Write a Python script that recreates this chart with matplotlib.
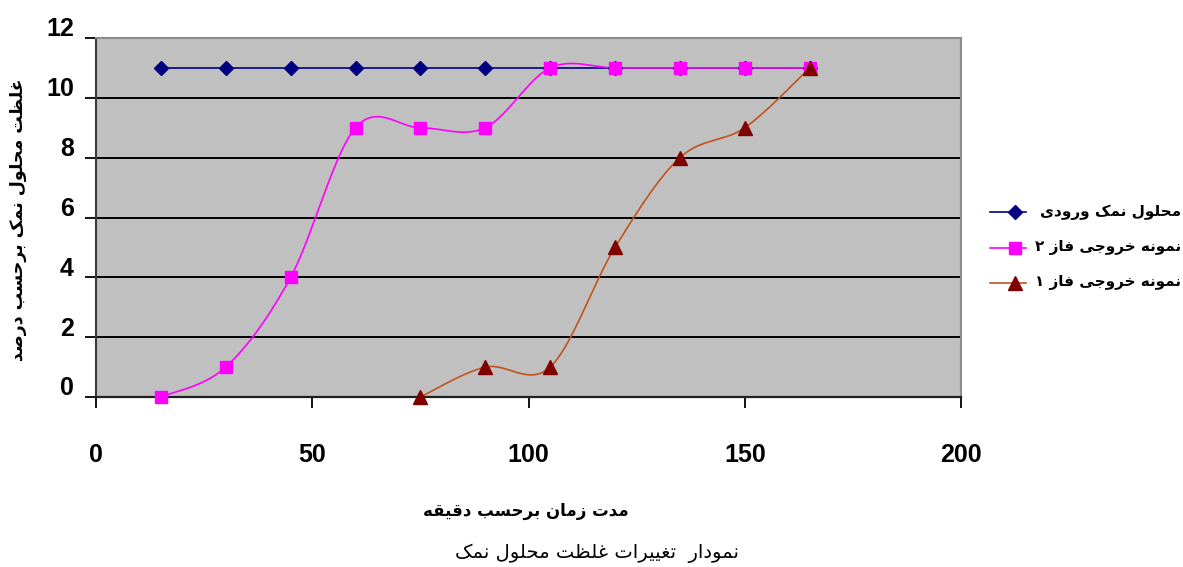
import numpy as np
import matplotlib
matplotlib.use("Agg")
import matplotlib.pyplot as plt
from matplotlib.lines import Line2D
import matplotlib.transforms as mtransforms

# --- data -------------------------------------------------------------
time_min = [15, 30, 45, 60, 75, 90, 105, 120, 135, 150, 165]
inlet_salt = [11, 11, 11, 11, 11, 11, 11, 11, 11, 11, 11]
phase2_out = [0, 1, 4, 9, 9, 9, 11, 11, 11, 11, 11]
phase1_time = [75, 90, 105, 120, 135, 150, 165]
phase1_out = [0, 1, 1, 5, 8, 9, 11]

series_labels = ["محلول نمک ورودی", "نمونه خروجی فاز ۲", "نمونه خروجی فاز ۱"]
x_ticks = [0, 50, 100, 150, 200]
y_ticks = [0, 2, 4, 6, 8, 10, 12]
x_title = "مدت زمان برحسب دقیقه"
y_title = "غلظت محلول نمک برحسب درصد"
caption = "نمودار  تغییرات غلظت محلول نمک"

# --- minimal Persian shaping (matplotlib does not join Arabic script) ---
FORMS = {
    "ا": ("\uFE8D", "\uFE8E", None, None),
    "ب": ("\uFE8F", "\uFE90", "\uFE91", "\uFE92"),
    "ت": ("\uFE95", "\uFE96", "\uFE97", "\uFE98"),
    "ج": ("\uFE9D", "\uFE9E", "\uFE9F", "\uFEA0"),
    "ح": ("\uFEA1", "\uFEA2", "\uFEA3", "\uFEA4"),
    "خ": ("\uFEA5", "\uFEA6", "\uFEA7", "\uFEA8"),
    "د": ("\uFEA9", "\uFEAA", None, None),
    "ر": ("\uFEAD", "\uFEAE", None, None),
    "ز": ("\uFEAF", "\uFEB0", None, None),
    "س": ("\uFEB1", "\uFEB2", "\uFEB3", "\uFEB4"),
    "ص": ("\uFEB9", "\uFEBA", "\uFEBB", "\uFEBC"),
    "ظ": ("\uFEC5", "\uFEC6", "\uFEC7", "\uFEC8"),
    "غ": ("\uFECD", "\uFECE", "\uFECF", "\uFED0"),
    "ف": ("\uFED1", "\uFED2", "\uFED3", "\uFED4"),
    "ق": ("\uFED5", "\uFED6", "\uFED7", "\uFED8"),
    "ل": ("\uFEDD", "\uFEDE", "\uFEDF", "\uFEE0"),
    "م": ("\uFEE1", "\uFEE2", "\uFEE3", "\uFEE4"),
    "ن": ("\uFEE5", "\uFEE6", "\uFEE7", "\uFEE8"),
    "ه": ("\uFEE9", "\uFEEA", "\uFEEB", "\uFEEC"),
    "و": ("\uFEED", "\uFEEE", None, None),
    "ی": ("\uFEEF", "\uFEF0", "\uFEF3", "\uFEF4"),
    "ک": ("\uFB8E", "\uFB8F", "\uFB90", "\uFB91"),
}


def shape(text):
    chars = list(text)
    out = []
    for i, c in enumerate(chars):
        if c not in FORMS:
            out.append(c)
            continue
        prev = chars[i - 1] if i > 0 else None
        nxt = chars[i + 1] if i + 1 < len(chars) else None
        join_prev = prev in FORMS and FORMS[prev][2] is not None
        join_next = FORMS[c][2] is not None and nxt in FORMS
        iso, fin, ini, med = FORMS[c]
        if join_prev and join_next:
            out.append(med)
        elif join_prev:
            out.append(fin)
        elif join_next:
            out.append(ini)
        else:
            out.append(iso)
    return "".join(reversed(out))


def smooth(xs, ys, n=40):
    """Catmull-Rom style cubic Bezier through the points."""
    P = np.column_stack([xs, ys]).astype(float)
    m = len(P)
    pts = [P[0]]
    t = np.linspace(0, 1, n)[1:, None]
    for i in range(m - 1):
        p_prev = P[i - 1] if i > 0 else P[i]
        p_next = P[i + 2] if i + 2 < m else P[i + 1]
        c1 = P[i] + (P[i + 1] - p_prev) / 6.0
        c2 = P[i + 1] - (p_next - P[i]) / 6.0
        seg = ((1 - t) ** 3) * P[i] + 3 * (1 - t) ** 2 * t * c1 \
            + 3 * (1 - t) * t ** 2 * c2 + t ** 3 * P[i + 1]
        pts.extend(seg)
    arr = np.array(pts)
    return arr[:, 0], arr[:, 1]


plt.rcParams["font.family"] = ["DejaVu Sans"]

W, H = 1183, 567
fig = plt.figure(figsize=(W / 100, H / 100), dpi=100)
fig.patch.set_facecolor("white")
ax = fig.add_axes([96 / W, 1 - 397 / H, 865 / W, 359 / H])
ax.set_facecolor("#C0C0C0")
ax.set_xlim(0, 200)
ax.set_ylim(0, 12)

for y in y_ticks[1:-1]:
    ax.axhline(y, color="black", lw=1.4, zorder=1)

styles = [
    dict(color="#000080", mfc="#000080", marker="D", ms=7.5, lw=1.2),
    dict(color="#FF00FF", mfc="#FF00FF", marker="s", ms=8, lw=1.2),
    dict(color="#C2521E", mfc="#800000", marker="^", ms=9.5, lw=1.2),
]
series = [(time_min, inlet_salt), (time_min, phase2_out), (phase1_time, phase1_out)]

for (xs, ys), st in zip(series, styles):
    sx, sy = smooth(xs, ys)
    ax.plot(sx, sy, color=st["color"], lw=st["lw"], zorder=3, clip_on=False)
    ax.plot(xs, ys, ls="none", marker=st["marker"], ms=st["ms"],
            mfc=st["mfc"], mec=st["mfc"], zorder=4, clip_on=False)

for side in ("top", "right"):
    ax.spines[side].set_color("#8C8C8C")
    ax.spines[side].set_linewidth(1.5)
ax.spines["left"].set_color("#3A3A3A")
ax.spines["left"].set_linewidth(1.5)
ax.spines["bottom"].set_color("#202020")
ax.spines["bottom"].set_linewidth(1.6)

ax.set_xticks(x_ticks)
ax.set_yticks(y_ticks)
ax.set_xticklabels([str(v) for v in x_ticks])
ax.set_yticklabels([str(v) for v in y_ticks])
ax.tick_params(axis="both", direction="out", length=8, width=1.3, color="black")
ax.tick_params(axis="x", pad=25)
ax.tick_params(axis="y", pad=8)
for lab in ax.get_xticklabels() + ax.get_yticklabels():
    lab.set_fontfamily("Liberation Sans")
    lab.set_fontweight("bold")
    lab.set_fontsize(18)

shift = mtransforms.ScaledTranslation(0, 8 / 72, fig.dpi_scale_trans)
for lab in ax.get_yticklabels():
    lab.set_transform(lab.get_transform() + shift)

fig.text(18 / W, 1 - 220 / H, shape(y_title), rotation=90, ha="center",
         va="center", fontsize=12.5, fontweight="bold")
fig.text(526 / W, 1 - 511 / H, shape(x_title), ha="center", va="center",
         fontsize=12, fontweight="bold")
fig.text(597 / W, 1 - 553 / H, shape(caption), ha="center", va="center",
         fontsize=14)

# legend: short line with the marker sitting near its right end, then label
px = fig.transFigure.inverted()
for i, (label, st) in enumerate(zip(series_labels, styles)):
    yrow = 212 + i * 35.5
    (x0, y0), (x1, _) = px.transform([(990, H - yrow), (1026, H - yrow)])
    xm, _ = px.transform((1015, H - yrow))
    fig.add_artist(Line2D([x0, x1], [y0, y0], color=st["color"], lw=st["lw"],
                          transform=fig.transFigure))
    fig.add_artist(Line2D([xm], [y0], ls="none", marker=st["marker"],
                          ms=st["ms"], mfc=st["mfc"], mec=st["mfc"],
                          transform=fig.transFigure))
    fig.text(1181 / W, y0, shape(label), ha="right", va="center",
             fontsize=11, fontweight="bold")

fig.savefig("out.png", dpi=100)
